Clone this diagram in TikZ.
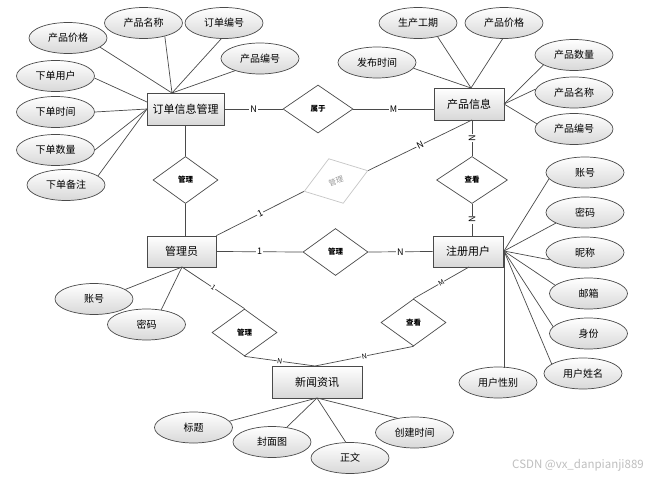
\documentclass[tikz,border=0pt]{standalone}
\usepackage{fontspec}
\newfontfamily\cjk{Noto Sans CJK SC}
\usetikzlibrary{shapes.geometric,shadows}
\definecolor{ln}{HTML}{4A4A4A}
\definecolor{shd}{HTML}{D8D8D8}
\tikzset{
  ent/.style={draw=ln, line width=0.8pt, top color=white, bottom color=shd, inner sep=0pt,
    minimum height=32pt, font=\cjk\fontsize{11}{11}\selectfont,
    drop shadow={shadow xshift=1.2pt, shadow yshift=-1.2pt, opacity=0.25}},
  attr/.style={ellipse, draw=ln, line width=0.7pt, top color=white, bottom color=shd, inner sep=0pt,
    minimum width=78pt, minimum height=31pt, font=\cjk\fontsize{10}{10}\selectfont},
  rel/.style={diamond, draw=ln, line width=0.7pt, fill=white, inner sep=0pt,
    minimum width=65pt, minimum height=47pt, font=\cjk\bfseries\fontsize{7.5}{7.5}\selectfont},
  conn/.style={draw=ln, line width=0.7pt},
  card/.style={fill=white, inner sep=0.8pt, font=\cjk\fontsize{9}{9}\selectfont},
  smallcard/.style={fill=white, inner sep=0.5pt, font=\cjk\fontsize{7}{7}\selectfont},
}
\begin{document}
\begin{tikzpicture}[x=1pt,y=-1pt]
\useasboundingbox[fill=white] (0,0) rectangle (656,479);

% entities
\node[ent, minimum width=77pt] (ord) at (185.5,109) {订单信息管理};
\node[ent, minimum width=70pt] (prd) at (469,104) {产品信息};
\node[ent, minimum width=69pt, minimum height=31pt] (adm) at (181.5,251.5) {管理员};
\node[ent, minimum width=70pt, minimum height=31pt] (usr) at (468,251.5) {注册用户};
\node[ent, minimum width=90pt] (news) at (317,382) {新闻资讯};

% relationships
\node[rel, minimum width=70pt, minimum height=48pt] (belong) at (318,109) {属于};
\node[rel] (r1) at (185.5,180) {管理};
\node[rel, rotate=18, minimum width=67pt, draw=gray!45, text=gray!80] (r2) at (336,181) {\mdseries 管理};
\node[rel] (r3) at (335.5,252) {管理};
\node[rel, minimum width=71pt] (r4) at (472,180) {查看};
\node[rel] (r5) at (244.5,332.5) {管理};
\node[rel] (r6) at (413.5,322.5) {查看};

% helper points
\coordinate (ordT) at (172,93);
\coordinate (ordLa) at (147,102);
\coordinate (ordLb) at (147,109);
\coordinate (prdT) at (471,88);
\coordinate (prdR) at (504,104);
\coordinate (prdB) at (472,120);
\coordinate (usrR) at (504,251);
\coordinate (usrB) at (469,267);
\coordinate (admB) at (182,267);
\coordinate (newsT) at (315,366);
\coordinate (newsB) at (317,398);

% relationship connectors
\draw[conn] (ord.east) -- node[card]{N} (belong.west);
\draw[conn] (belong.east) -- node[card]{M} (belong.east -| prd.west);
\draw[conn] (r1.north) -- (r1.north |- ord.south);
\draw[conn] (r1.south) -- (r1.south |- adm.north);
\draw[conn] (adm.north east) -- node[card, sloped]{1} (r2.west);
\draw[conn] (r2.east) -- node[card, sloped]{N} (prdB);
\draw[conn] (prdB) -- node[card, rotate=90]{N} (r4.north);
\draw[conn] (r4.south) -- node[card, rotate=90]{N} (r4.south |- usr.north);
\draw[conn] (adm.east) -- node[card]{1} (r3.west);
\draw[conn] (r3.east) -- node[card]{N} (usr.west);
\draw[conn] (admB) -- node[smallcard, sloped]{1} (r5.north);
\draw[conn] (r5.south) -- node[smallcard, sloped]{N} (newsT);
\draw[conn] (usrB) -- node[smallcard, sloped]{M} (r6.north);
\draw[conn] (r6.south) -- node[smallcard, sloped]{N} (newsT);

% order attributes
\node[attr] (o1) at (68,38) {产品价格};
\node[attr] (o2) at (143.5,23) {产品名称};
\node[attr] (o3) at (224,23) {订单编号};
\node[attr] (o4) at (260,58.5) {产品编号};
\node[attr] (o5) at (55.5,76) {下单用户};
\node[attr] (o6) at (55.5,112) {下单时间};
\node[attr] (o7) at (55.5,150) {下单数量};
\node[attr] (o8) at (66,185) {下单备注};
\draw[conn] (o1.-16) -- (ordT);
\draw[conn] (o2.-32) -- (ordT);
\draw[conn] (o3.-100) -- (ordT);
\draw[conn] (o4.-154) -- (ordT);
\draw[conn] (o5.-3) -- (ordLa);
\draw[conn] (o6.east) -- (ordLb);
\draw[conn] (o7.east) -- (ordLb);
\draw[conn] (o8.16) -- (ordLb);

% product attributes
\node[attr] (p1) at (418,23) {生产工期};
\node[attr] (p2) at (504,23) {产品价格};
\node[attr] (p3) at (377,62.5) {发布时间};
\node[attr] (p4) at (574,55) {产品数量};
\node[attr] (p5) at (574,92.5) {产品名称};
\node[attr] (p6) at (574,129) {产品编号};
\draw[conn] (p1.-35) -- (prdT);
\draw[conn] (p2.-95) -- (prdT);
\draw[conn] (p3.-9) -- (prdT);
\draw[conn] (p4.-162) -- (prdR);
\draw[conn] (p5.175) -- (prdR);
\draw[conn] (p6.172) -- (prdR);

% user attributes
\node[attr] (u1) at (585,172.5) {账号};
\node[attr] (u2) at (585,212.5) {密码};
\node[attr] (u3) at (585,252.5) {昵称};
\node[attr] (u4) at (588.5,293.5) {邮箱};
\node[attr] (u5) at (588.5,333.5) {身份};
\node[attr] (u6) at (583,373.5) {用户姓名};
\node[attr] (u7) at (498,382.5) {用户性别};
\draw[conn] (u1.-170) -- (usrR);
\draw[conn] (u2.-160) -- (usrR);
\draw[conn] (u3.-168) -- (usrR);
\draw[conn] (u4.166) -- (usrR);
\draw[conn] (u5.169) -- (usrR);
\draw[conn] (u6.163) -- (usrR);
\draw[conn] (usrR) -- ([yshift=-1.5pt]u7.north -| usrR);

% admin attributes
\node[attr] (a1) at (94,299) {账号};
\node[attr] (a2) at (146.5,324.5) {密码};
\draw[conn] (a1.17) -- (admB);
\draw[conn] (a2.45) -- (admB);

% news attributes
\node[attr] (n1) at (193.5,427.5) {标题};
\node[attr] (n2) at (272,442) {封面图};
\node[attr] (n3) at (350,458) {正文};
\node[attr] (n4) at (414.5,432.5) {创建时间};
\draw[conn] (n1.10) -- (newsB);
\draw[conn] (n2.45) -- (newsB);
\draw[conn] (n3.105) -- (newsB);
\draw[conn] (n4.140) -- (newsB);

% watermark
\node[font=\cjk\fontsize{11.5}{11.5}\selectfont, text=gray!50] (wm) at (578,465.5) {CSDN @vx\_danpianji889};
\end{tikzpicture}
\end{document}
